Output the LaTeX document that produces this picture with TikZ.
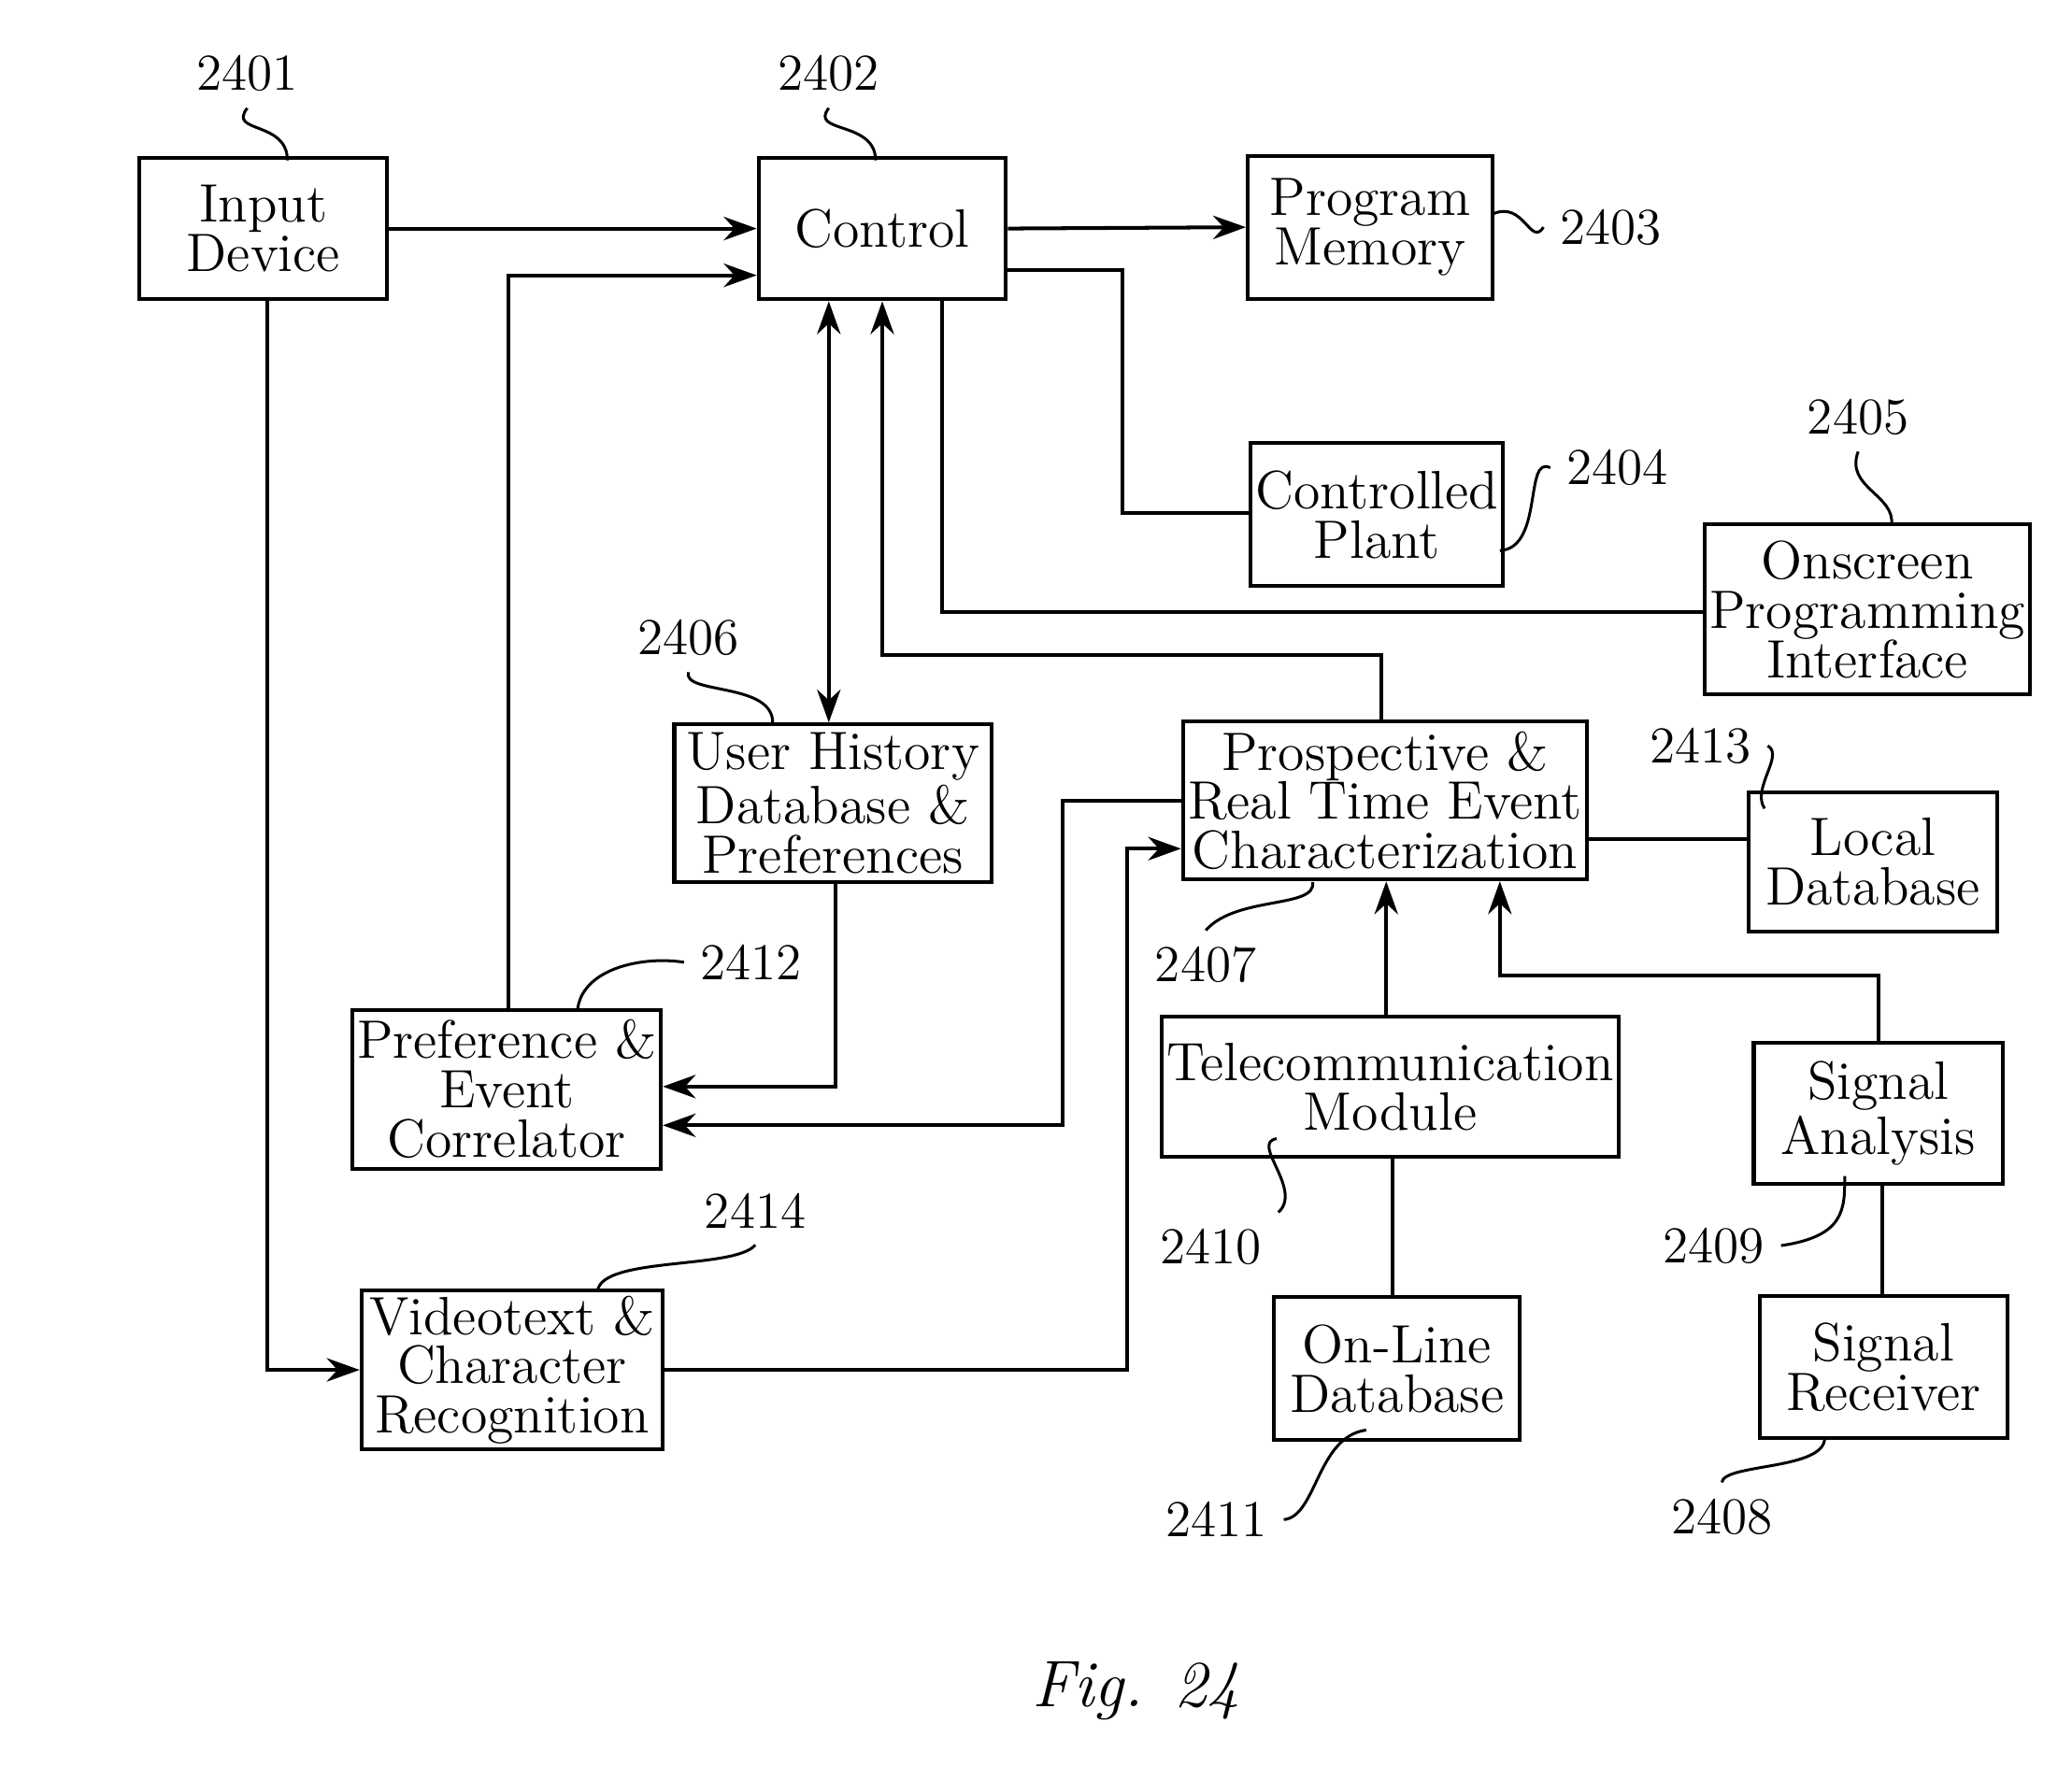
\documentclass[tikz,border=0pt]{standalone}
\usepackage{tikz}
\usetikzlibrary{arrows.meta}

\tikzset{
  blk/.style={draw, thick, align=center, inner sep=1pt, font=\fontsize{11.5}{10.5}\selectfont},
  num/.style={font=\fontsize{11}{12}\selectfont},
  line/.style={thick},
  arr/.style={thick, -{Stealth[length=7pt, width=5pt]}},
  lead/.style={semithick}
}

\begin{document}
\begin{tikzpicture}[x=0.01cm, y=-0.01cm]
      \useasboundingbox (0,0) rectangle (1550,1321);
      % blocks
      \node[blk, minimum width=1.85cm, minimum height=1.06cm] (inp) at (197,171) {Input\\Device};
      \node[blk, minimum width=1.85cm, minimum height=1.06cm] (ctl) at (660,171) {Control};
      \node[blk, minimum width=1.83cm, minimum height=1.07cm] (pm) at (1025,170) {Program\\Memory};
      \node[blk, minimum width=1.83cm, minimum height=1.07cm] (cp) at (1030,385) {Controlled\\Plant};
      \node[blk, minimum width=2.39cm, minimum height=1.27cm] (osp) at (1397,456) {Onscreen\\Programming\\Interface};
      \node[blk, minimum width=2.37cm, minimum height=1.18cm] (uh) at (623,601) {User History\\Database \&\\Preferences};
      \node[blk, minimum width=3.02cm, minimum height=1.18cm] (pr) at (1036,599) {Prospective \&\\Real Time Event\\Characterization};
      \node[blk, minimum width=1.86cm, minimum height=1.04cm] (ldb) at (1401,645) {Local\\Database};
      \node[blk, minimum width=2.24cm, minimum height=1.19cm] (pec) at (379,815) {Preference \&\\Event\\Correlator};
      \node[blk, minimum width=3.36cm, minimum height=1.05cm] (tel) at (1040,813) {Telecommunication\\Module};
      \node[blk, minimum width=1.86cm, minimum height=1.05cm] (sa) at (1405,833) {Signal\\Analysis};
      \node[blk, minimum width=2.25cm, minimum height=1.19cm] (vt) at (383,1025) {Videotext \&\\Character\\Recognition};
      \node[blk, minimum width=1.84cm, minimum height=1.07cm] (odb) at (1045,1024) {On-Line\\Database};
      \node[blk, minimum width=1.85cm, minimum height=1.06cm] (sr) at (1409,1023) {Signal\\Receiver};
      \node[font=\itshape\fontsize{14}{16}\selectfont] (fig) at (850,1265) {Fig. 24};

      % connectors
      \draw[arr] (inp.east) -- (ctl.west);
      \draw[arr] (ctl.east) -- (pm.west);
      \draw[arr] (pec.north -| 380,0) |- (ctl.west |- 0,206);
      \draw[thick, {Stealth[length=7pt, width=5pt]}-{Stealth[length=7pt, width=5pt]}] (ctl.south -| 620,0) -- (uh.north -| 620,0);
      \draw[arr] (pr.north -| 1033,0) |- (660,490) -- (ctl.south -| 660,0);
      \draw[line] (ctl.south -| 705,0) |- (osp.west |- 0,458);
      \draw[line] (ctl.east |- 0,202) -| (840,384) -- (cp.west |- 0,384);
      \draw[arr] (uh.south -| 625,0) |- (pec.east |- 0,813);
      \draw[arr] (pr.west) -| (795,842) -- (pec.east |- 0,842);
      \draw[arr] (vt.east) -| (843,635) -- (pr.west |- 0,635);
      \draw[arr] (inp.south -| 200,0) |- (vt.west);
      \draw[line] (pr.east |- 0,628) -- (ldb.west |- 0,628);
      \draw[arr] (tel.north -| 1037,0) -- (pr.south -| 1037,0);
      \draw[arr] (sa.north) |- (1122,730) -- (pr.south -| 1122,0);
      \draw[line] (tel.south -| 1042,0) -- (odb.north -| 1042,0);
      \draw[line] (sa.south -| 1408,0) -- (sr.north -| 1408,0);

      % reference numerals
      \node[num] (n01) at (185,55) {2401};
      \node[num] (n02) at (620,55) {2402};
      \node[num] (n03) at (1205,170) {2403};
      \node[num] (n04) at (1210,350) {2404};
      \node[num] (n05) at (1390,312) {2405};
      \node[num] (n06) at (515,477) {2406};
      \node[num] (n07) at (902,722) {2407};
      \node[num] (n12) at (562,720) {2412};
      \node[num] (n10) at (906,933) {2410};
      \node[num] (n14) at (565,906) {2414};
      \node[num] (n13) at (1272,558) {2413};
      \node[num] (n09) at (1282,932) {2409};
      \node[num] (n11) at (910,1137) {2411};
      \node[num] (n08) at (1288,1135) {2408};
      \draw[lead] (n01.south) .. controls (170,100) and (215,90) .. (215,120);
      \draw[lead] (n02.south) .. controls (605,100) and (655,90) .. (655,120);
      \draw[lead] (n03.west) .. controls (1145,185) and (1140,150) .. (1117,160);
      \draw[lead] (n04.west) .. controls (1140,340) and (1155,410) .. (1122,412);
      \draw[lead] (n05.south) .. controls (1380,365) and (1418,370) .. (1415,393);
      \draw[lead] (n06.south) .. controls (510,520) and (580,510) .. (578,542);
      \draw[lead] (n07.north) .. controls (925,670) and (985,680) .. (982,660);
      \draw[lead] (n12.west) .. controls (480,715) and (435,725) .. (432,756);
      \draw[lead] (n10.north east) .. controls (975,890) and (935,855) .. (955,852);
      \draw[lead] (n14.south) .. controls (550,950) and (450,940) .. (447,966);
      \draw[lead] (n13.east) .. controls (1335,565) and (1310,590) .. (1320,605);
      \draw[lead] (n09.east) .. controls (1380,925) and (1380,905) .. (1380,880);
      \draw[lead] (n11.east) .. controls (985,1135) and (985,1075) .. (1022,1070);
      \draw[lead] (n08.north) .. controls (1290,1095) and (1365,1100) .. (1365,1076);
\end{tikzpicture}
\end{document}
